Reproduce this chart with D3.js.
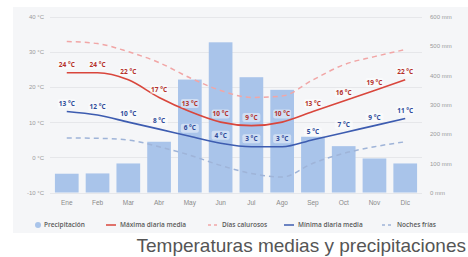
<!DOCTYPE html>
<html>
<head>
<meta charset="utf-8">
<script src="https://cdn.jsdelivr.net/npm/d3@7"></script>
<style>
  body { margin: 0; background: #fff; }
  svg { display: block; font-family: "Open Sans", "Liberation Sans", sans-serif; }
  .ejes text { fill: #9a9a9a; font-size: 6px; }
  .meses text { fill: #8a8a8a; font-size: 6.5px; }
  .ley text { fill: #5a5a5a; font-size: 6.5px; font-weight: 600; }
  .etq { font-size: 6.5px; font-weight: 700; }
</style>
</head>
<body>
<div id="graf"></div>
<script>
const meses = ["Ene", "Feb", "Mar", "Abr", "May", "Jun", "Jul", "Ago", "Sep", "Oct", "Nov", "Dic"]
const precipitacion = [64, 65, 99, 173, 385, 512, 393, 350, 190, 158, 116, 99]
const maxima = [24, 24, 22, 17, 13, 10, 9, 10, 13, 16, 19, 22]
const minima = [13, 12, 10, 8, 6, 4, 3, 3, 5, 7, 9, 11]
const calurosos = [32.9, 32.3, 30, 26.9, 22.6, 19, 17, 17.4, 22, 26.3, 28.6, 30.6]
const frias = [5.5, 5.4, 4.9, 3, 0.6, -2.3, -4.6, -5.6, -1.7, 1.1, 3, 4.4]
const ticksTemp = [-10, 0, 10, 20, 30, 40]
const ticksMm = [0, 100, 200, 300, 400, 500, 600]

const ancho = 468
const alto = 257

const svg = d3.select("#graf")
  .append("svg")
  .attr("width", ancho)
  .attr("height", alto)

// fondo del panel
svg.append("rect")
  .attr("x", 13).attr("y", 7)
  .attr("width", ancho - 13).attr("height", 226)
  .attr("fill", "#f5f6f8")

const x = d3.scaleBand().domain(meses).range([50, 422]).paddingInner(0.23).paddingOuter(0.16)
const y = d3.scaleLinear().domain([-10, 40]).range([192.5, 16.5])
const yMm = d3.scaleLinear().domain([0, 600]).range([192.5, 16.5])

// rejilla
svg.append("g")
  .selectAll("line")
  .data(ticksTemp)
  .join("line")
  .attr("x1", 50).attr("x2", 422)
  .attr("y1", (d) => Math.round(y(d)) + 0.5)
  .attr("y2", (d) => Math.round(y(d)) + 0.5)
  .attr("stroke", "#e6e7ea")

const ejeIzq = d3.axisLeft(y).tickValues(ticksTemp).tickSize(0).tickPadding(0).tickFormat((d) => d + " °C")
svg.append("g")
  .attr("class", "ejes")
  .attr("transform", "translate(44,0)")
  .call(ejeIzq)
  .call((g) => g.select(".domain").remove())

const ejeDer = d3.axisRight(yMm).tickValues(ticksMm).tickSize(0).tickPadding(0).tickFormat((d) => d + " mm")
svg.append("g")
  .attr("class", "ejes")
  .attr("transform", "translate(430,0)")
  .call(ejeDer)
  .call((g) => g.select(".domain").remove())

const ejeX = d3.axisBottom(x).tickSize(0).tickPadding(0)
svg.append("g")
  .attr("class", "meses")
  .attr("transform", "translate(0,200)")
  .call(ejeX)
  .call((g) => g.select(".domain").remove())

// barras de precipitacion
svg.append("g")
  .selectAll("rect")
  .data(precipitacion)
  .join("rect")
  .attr("x", (d, i) => x(meses[i]))
  .attr("y", (d) => yMm(d))
  .attr("width", x.bandwidth())
  .attr("height", (d) => yMm(0) - yMm(d))
  .attr("fill", "#a9c4ea")

const cx = (d, i) => x(meses[i]) + x.bandwidth() / 2
const linea = d3.line().x(cx).y((d) => y(d)).curve(d3.curveMonotoneX)

svg.append("path").datum(calurosos)
  .attr("d", linea).attr("fill", "none")
  .attr("stroke", "#f1a6a6").attr("stroke-width", 1.5).attr("stroke-dasharray", "5,4")

svg.append("path").datum(frias)
  .attr("d", linea).attr("fill", "none")
  .attr("stroke", "#9fb4d8").attr("stroke-width", 1.5).attr("stroke-dasharray", "5,4")

svg.append("path").datum(maxima)
  .attr("d", linea).attr("fill", "none")
  .attr("stroke", "#d9463c").attr("stroke-width", 1.6)

svg.append("path").datum(minima)
  .attr("d", linea).attr("fill", "none")
  .attr("stroke", "#3d5cb0").attr("stroke-width", 1.6)

// etiquetas
const etiquetas = (datos, color) => {
  const g = svg.append("g").selectAll("g")
    .data(datos)
    .join("g")
    .attr("transform", (d, i) => `translate(${cx(d, i)},${y(d) - 8})`)
  g.append("rect")
    .attr("x", -9).attr("y", -4.5)
    .attr("width", 18).attr("height", 9)
    .attr("rx", 2)
    .attr("fill", "rgba(255,255,255,0.45)")
  g.append("text")
    .attr("class", "etq")
    .attr("text-anchor", "middle")
    .attr("dy", "0.35em")
    .attr("fill", color)
    .text((d) => d + " °C")
}
etiquetas(maxima, "#b5302a")
etiquetas(minima, "#2e4a99")

// leyenda
const ley = svg.append("g").attr("class", "ley").attr("transform", "translate(0,225)")
ley.append("circle").attr("cx", 38).attr("cy", 0).attr("r", 3).attr("fill", "#a9c4ea")
ley.append("text").attr("x", 44).attr("dy", "0.35em").text("Precipitación")
ley.append("line").attr("x1", 106).attr("x2", 116).attr("stroke", "#d9463c").attr("stroke-width", 1.5)
ley.append("text").attr("x", 120).attr("dy", "0.35em").text("Máxima diaria media")
ley.append("line").attr("x1", 208).attr("x2", 218).attr("stroke", "#f1a6a6").attr("stroke-width", 1.5).attr("stroke-dasharray", "3,3")
ley.append("text").attr("x", 222).attr("dy", "0.35em").text("Días calurosos")
ley.append("line").attr("x1", 284).attr("x2", 294).attr("stroke", "#3d5cb0").attr("stroke-width", 1.5)
ley.append("text").attr("x", 298).attr("dy", "0.35em").text("Mínima diaria media")
ley.append("line").attr("x1", 382).attr("x2", 393).attr("stroke", "#9fb4d8").attr("stroke-width", 1.5).attr("stroke-dasharray", "3,3")
ley.append("text").attr("x", 397).attr("dy", "0.35em").text("Noches frías")

// titulo inferior
svg.append("text")
  .attr("x", 466).attr("y", 252)
  .attr("text-anchor", "end")
  .attr("fill", "#555")
  .style("font-family", "'Liberation Sans', sans-serif")
  .style("font-size", "19px")
  .style("font-weight", 300)
  .text("Temperaturas medias y precipitaciones")
</script>
</body>
</html>
